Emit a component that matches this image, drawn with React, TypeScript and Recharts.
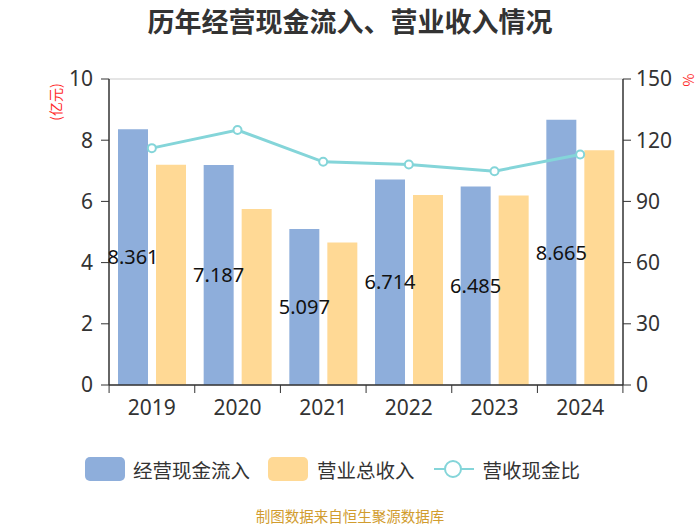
import {
  ComposedChart,
  Bar,
  Line,
  XAxis,
  YAxis,
  CartesianGrid,
  LabelList,
} from "recharts";

const years = ["2019", "2020", "2021", "2022", "2023", "2024"];
const cashInflow = [8.361, 7.187, 5.097, 6.714, 6.485, 8.665];
const revenue = [7.2, 5.75, 4.66, 6.21, 6.19, 7.67];
const cashRatio = [116.1, 125.0, 109.4, 108.1, 104.8, 113.0];

const leftTicks = [0, 2, 4, 6, 8, 10];
const rightTicks = [0, 30, 60, 90, 120, 150];

const FONT = '"Noto Sans CJK SC", "Noto Sans", sans-serif';
const NUM_FONT = '"Noto Sans", "Noto Sans CJK SC", sans-serif';
const BLUE = "#8eaedb";
const YELLOW = "#ffd995";
const TEAL = "#84d5d9";
const AXIS = "#333333";

const data = years.map((year, i) => ({
  year,
  cash: cashInflow[i],
  revenue: revenue[i],
  ratio: cashRatio[i],
}));

const PLOT_W = 513;
const BAND = PLOT_W / years.length;

// category labels with tick marks on the band edges
function YearTick(props: any) {
  const { x, y, payload, index } = props;
  const left = x - BAND / 2;
  const right = x + BAND / 2;
  return (
    <g>
      <line x1={left} y1={y - 8} x2={left} y2={y} stroke={AXIS} />
      {index === years.length - 1 && (
        <line x1={right} y1={y - 8} x2={right} y2={y} stroke={AXIS} />
      )}
      <text
        x={x}
        y={y + 22}
        textAnchor="middle"
        fill={AXIS}
        fontSize={21}
        fontFamily={NUM_FONT}
      >
        {payload.value}
      </text>
    </g>
  );
}

export default function App() {
  return (
    <div
      style={{
        position: "absolute",
        left: 0,
        top: 0,
        width: 700,
        height: 525,
        background: "#fff",
        fontFamily: FONT,
        overflow: "hidden",
      }}
    >
      <div
        style={{
          position: "absolute",
          top: 7,
          width: 700,
          textAlign: "center",
          fontSize: 27,
          lineHeight: "27px",
          fontWeight: "bold",
          color: "#333",
        }}
      >
        历年经营现金流入、营业收入情况
      </div>

      <div
        style={{
          position: "absolute",
          left: 30,
          top: 92,
          width: 50,
          textAlign: "center",
          color: "#ff2a2a",
          fontSize: 14,
          lineHeight: "20px",
          transform: "rotate(-90deg)",
        }}
      >
        (亿元)
      </div>
      <div
        style={{
          position: "absolute",
          left: 680,
          top: 70,
          width: 16,
          textAlign: "center",
          color: "#ff2a2a",
          fontSize: 14,
          lineHeight: "20px",
          transform: "rotate(-90deg)",
        }}
      >
        %
      </div>

      <ComposedChart
        width={700}
        height={525}
        data={data}
        margin={{ top: 79, right: 19, bottom: 110, left: 50 }}
        barCategoryGap="10%"
        barGap={8}
      >
        <CartesianGrid vertical={false} stroke="#dddddd" strokeWidth={1.5} />
        <XAxis
          dataKey="year"
          axisLine={{ stroke: AXIS, strokeWidth: 1.5 }}
          tickLine={false}
          tick={<YearTick />}
          height={30}
          interval={0}
        />
        <YAxis
          yAxisId="left"
          domain={[0, 10]}
          ticks={leftTicks}
          width={59}
          tickSize={8}
          tickMargin={8}
          axisLine={{ stroke: AXIS, strokeWidth: 1.5 }}
          tickLine={{ stroke: AXIS }}
          tick={{ fill: AXIS, fontSize: 21, fontFamily: NUM_FONT }}
        />
        <YAxis
          yAxisId="right"
          orientation="right"
          domain={[0, 150]}
          ticks={rightTicks}
          width={58}
          tickSize={8}
          tickMargin={5}
          axisLine={{ stroke: AXIS, strokeWidth: 1.5 }}
          tickLine={{ stroke: AXIS }}
          tick={{ fill: AXIS, fontSize: 21, fontFamily: NUM_FONT }}
        />
        <Bar
          yAxisId="left"
          dataKey="cash"
          fill={BLUE}
          barSize={30}
          isAnimationActive={false}
        >
          <LabelList
            dataKey="cash"
            position="center"
            fill="#111"
            fontSize={20}
            fontFamily={NUM_FONT}
          />
        </Bar>
        <Bar
          yAxisId="left"
          dataKey="revenue"
          fill={YELLOW}
          barSize={30}
          isAnimationActive={false}
        />
        <Line
          yAxisId="right"
          dataKey="ratio"
          stroke={TEAL}
          strokeWidth={3}
          dot={{ r: 4, fill: "#fff", stroke: TEAL, strokeWidth: 2 }}
          isAnimationActive={false}
        />
      </ComposedChart>

      <div
        style={{
          position: "absolute",
          top: 457,
          left: 85,
          height: 24,
          display: "flex",
          alignItems: "center",
          fontSize: 19.5,
          color: "#333",
        }}
      >
        <span
          style={{
            width: 40,
            height: 24,
            background: BLUE,
            borderRadius: 5,
            marginRight: 8,
          }}
        />
        <span style={{ marginRight: 18 }}>经营现金流入</span>
        <span
          style={{
            width: 40,
            height: 24,
            background: YELLOW,
            borderRadius: 5,
            marginRight: 9,
          }}
        />
        <span style={{ marginRight: 19 }}>营业总收入</span>
        <svg width={40} height={24} style={{ marginRight: 9 }}>
          <line x1={0} y1={12} x2={40} y2={12} stroke={TEAL} strokeWidth={2} />
          <circle cx={19} cy={12} r={8} fill="#fff" stroke={TEAL} strokeWidth={2} />
        </svg>
        <span>营收现金比</span>
      </div>

      <div
        style={{
          position: "absolute",
          top: 508,
          width: 700,
          textAlign: "center",
          fontSize: 14.5,
          lineHeight: "15px",
          color: "#d19c2e",
        }}
      >
        制图数据来自恒生聚源数据库
      </div>
    </div>
  );
}
